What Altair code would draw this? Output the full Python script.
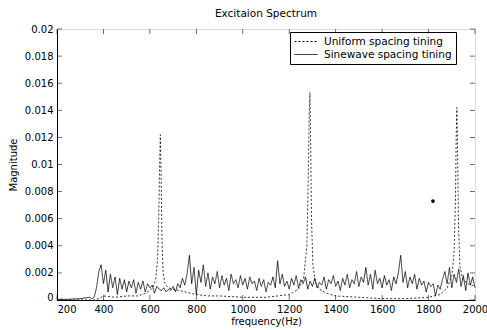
import altair as alt
import pandas as pd

title_text = "Excitaion Spectrum"
x_title = "frequency(Hz)"
y_title = "Magnitude"
series_names = ["Uniform spacing tining", "Sinewave spacing tining"]

x_ticks = [200, 400, 600, 800, 1000, 1200, 1400, 1600, 1800, 2000]
y_ticks = [0, 0.002, 0.004, 0.006, 0.008, 0.01, 0.012, 0.014, 0.016, 0.018, 0.02]

uniform_freq = [200, 360, 380, 400, 450, 500, 550, 580, 600, 615, 625, 633, 638, 642, 645,
                648, 652, 657, 665, 680, 700, 750, 800, 850, 900, 1000, 1100, 1150, 1200,
                1240, 1262, 1276, 1282, 1286, 1289, 1292, 1296, 1302, 1315, 1330, 1360,
                1400, 1500, 1600, 1700, 1800, 1850, 1880, 1900, 1910, 1916, 1919, 1922,
                1925, 1929, 1935, 1948, 1970, 2000]
uniform_mag = [0.0, 0.0, 0.0001, 0.0003, 0.0002, 0.0003, 0.0003, 0.0005, 0.0007, 0.0010,
               0.0015, 0.0030, 0.0060, 0.0100, 0.0122, 0.0095, 0.0045, 0.0020, 0.0012,
               0.0009, 0.0008, 0.0006, 0.0004, 0.0003, 0.0003, 0.0002, 0.0002, 0.0003,
               0.0004, 0.0008, 0.0016, 0.0040, 0.0090, 0.0135, 0.0153, 0.0120, 0.0060,
               0.0025, 0.0012, 0.0008, 0.0005, 0.0003, 0.0002, 0.0001, 0.0001, 0.0002,
               0.0004, 0.0009, 0.0018, 0.0035, 0.0075, 0.0120, 0.0142, 0.0110, 0.0055,
               0.0025, 0.0015, 0.0012, 0.0010]

sine_freq = [200, 250, 300, 340, 350, 360, 370, 380, 390, 400, 410, 420, 430, 440, 450,
             460, 470, 480, 490, 500, 510, 520, 530, 540, 550, 560, 570, 580, 590, 600,
             610, 620, 630, 640, 650, 660, 670, 680, 690, 700, 710, 720, 730, 740, 750,
             760, 770, 780, 790, 800, 810, 820, 830, 840, 850, 860, 870, 880, 890, 900,
             910, 920, 930, 940, 950, 960, 970, 980, 990, 1000, 1010, 1020, 1030, 1040,
             1050, 1060, 1070, 1080, 1090, 1100, 1110, 1120, 1130, 1140, 1150, 1160, 1170,
             1180, 1190, 1200, 1210, 1220, 1230, 1240, 1250, 1260, 1270, 1280, 1290, 1300,
             1310, 1320, 1330, 1340, 1350, 1360, 1370, 1380, 1390, 1400, 1410, 1420, 1430,
             1440, 1450, 1460, 1470, 1480, 1490, 1500, 1510, 1520, 1530, 1540, 1550, 1560,
             1570, 1580, 1590, 1600, 1610, 1620, 1630, 1640, 1650, 1660, 1670, 1680, 1690,
             1700, 1710, 1720, 1730, 1740, 1750, 1760, 1770, 1780, 1790, 1800, 1810, 1820,
             1830, 1840, 1850, 1860, 1870, 1880, 1890, 1900, 1910, 1920, 1930, 1940, 1950,
             1960, 1970, 1980, 1990, 2000]
sine_mag = [0.00005, 0.00005, 0.0001, 0.0002, 0.0001, 0.0002, 0.0009, 0.0021, 0.0026,
            0.0012, 0.0022, 0.0006, 0.0019, 0.0009, 0.0017, 0.0004, 0.0016, 0.0008, 0.0015,
            0.0006, 0.0014, 0.0009, 0.0015, 0.0005, 0.0013, 0.0008, 0.0014, 0.0006, 0.0012,
            0.0009, 0.0011, 0.0005, 0.0010, 0.0008, 0.0007, 0.0009, 0.0006, 0.0008, 0.0007,
            0.0010, 0.0006, 0.0012, 0.0009, 0.0016, 0.0011, 0.0019, 0.0033, 0.0012, 0.0024,
            0.0004, 0.0022, 0.0013, 0.0026, 0.0010, 0.0020, 0.0008, 0.0017, 0.0012, 0.0021,
            0.0009, 0.0018, 0.0011, 0.0016, 0.0007, 0.0019, 0.0012, 0.0015, 0.0009, 0.0018,
            0.0011, 0.0016, 0.0008, 0.0017, 0.0012, 0.0014, 0.0007, 0.0016, 0.0010, 0.0015,
            0.0006, 0.0013, 0.0011, 0.0017, 0.0009, 0.0029, 0.0012, 0.0019, 0.0010, 0.0014,
            0.0008, 0.0016, 0.0011, 0.0018, 0.0009, 0.0015, 0.0012, 0.0017, 0.0008, 0.0014,
            0.0010, 0.0016, 0.0009, 0.0013, 0.0011, 0.0017, 0.0008, 0.0015, 0.0012, 0.0018,
            0.0010, 0.0014, 0.0007, 0.0016, 0.0011, 0.0019, 0.0009, 0.0015, 0.0012, 0.0021,
            0.0010, 0.0017, 0.0013, 0.0024, 0.0011, 0.0019, 0.0008, 0.0022, 0.0012, 0.0016,
            0.0009, 0.0018, 0.0011, 0.0015, 0.0007, 0.0017, 0.0012, 0.0020, 0.0033, 0.0013,
            0.0021, 0.0009, 0.0017, 0.0012, 0.0019, 0.0008, 0.0016, 0.0011, 0.0014, 0.0006,
            0.0013, 0.0010, 0.0012, 0.0003, 0.0011, 0.0008, 0.0015, 0.0021, 0.0012, 0.0024,
            0.0009, 0.0019, 0.0013, 0.0023, 0.0010, 0.0018, 0.0007, 0.0020, 0.0011, 0.0017,
            0.0009]

spot_freq = [1819]
spot_mag = [0.0073]

FONT = "DejaVu Sans"

df = pd.concat([
    pd.DataFrame({"freq": uniform_freq, "mag": uniform_mag, "series": series_names[0]}),
    pd.DataFrame({"freq": sine_freq, "mag": sine_mag, "series": series_names[1]}),
])
spot_df = pd.DataFrame({"freq": spot_freq, "mag": spot_mag})
xt_df = pd.DataFrame({"freq": x_ticks})
yt_df = pd.DataFrame({"mag": y_ticks})

xscale = alt.Scale(domain=[200, 2000], nice=False, zero=False)
yscale = alt.Scale(domain=[0, 0.02], nice=False)
axis_common = dict(
    labelFont=FONT, labelFontSize=10, labelColor="black",
    titleFont=FONT, titleFontSize=10, titleFontWeight="normal", titleColor="black",
    ticks=False, tickSize=0, grid=False, domain=True, domainColor="black", domainWidth=1,
    labelFlush=False,
)
x_axis = alt.Axis(
    values=x_ticks, title=x_title, format="d", labelPadding=4, titlePadding=2,
    labelAlign={"condition": {"test": "datum.value == 200", "value": "left"}, "value": "center"},
    **axis_common)
y_axis = alt.Axis(
    values=y_ticks, title=y_title, format="~g", labelPadding=4, titlePadding=6,
    labelBaseline={"condition": {"test": "datum.value == 0", "value": "alphabetic"},
                   "value": "middle"},
    **axis_common)

legend = alt.Legend(
    title=None, orient="none", legendX=233, legendY=3,
    symbolType="M-1,0H3.6", symbolSize=100, symbolStrokeWidth=1,
    strokeColor="black", fillColor="white", padding=4, rowPadding=2,
    labelFont=FONT, labelFontSize=10.5, labelColor="black", labelOffset=19,
    cornerRadius=0,
)

lines = alt.Chart(df).mark_line(strokeWidth=0.8).encode(
    x=alt.X("freq:Q", scale=xscale, axis=x_axis),
    y=alt.Y("mag:Q", scale=yscale, axis=y_axis),
    color=alt.Color("series:N", scale=alt.Scale(domain=series_names, range=["black", "black"]),
                    legend=legend),
    strokeDash=alt.StrokeDash("series:N",
                              scale=alt.Scale(domain=series_names, range=[[2, 2], [1, 0]]),
                              legend=legend),
)

spot = alt.Chart(spot_df).mark_circle(size=14, color="black", opacity=1).encode(
    x=alt.X("freq:Q", scale=xscale, axis=x_axis),
    y=alt.Y("mag:Q", scale=yscale, axis=y_axis),
)

tick_style = dict(color="black", thickness=0.8, size=5)
bottom_ticks = alt.Chart(xt_df).mark_tick(orient="vertical", yOffset=-2.5, **tick_style).encode(
    x=alt.X("freq:Q", scale=xscale, axis=x_axis), y=alt.YDatum(0, axis=y_axis, title=y_title))
top_ticks = alt.Chart(xt_df).mark_tick(orient="vertical", yOffset=2.5, **tick_style).encode(
    x=alt.X("freq:Q", scale=xscale, axis=x_axis), y=alt.YDatum(0.02, axis=y_axis, title=y_title))
left_ticks = alt.Chart(yt_df).mark_tick(orient="horizontal", xOffset=2.5, **tick_style).encode(
    y=alt.Y("mag:Q", scale=yscale, axis=y_axis), x=alt.XDatum(200, axis=x_axis, title=x_title))
right_ticks = alt.Chart(yt_df).mark_tick(orient="horizontal", xOffset=-2.5, **tick_style).encode(
    y=alt.Y("mag:Q", scale=yscale, axis=y_axis), x=alt.XDatum(2000, axis=x_axis, title=x_title))

chart = alt.layer(lines, spot, bottom_ticks, top_ticks, left_ticks, right_ticks).properties(
    width=418, height=271,
    autosize=alt.AutoSizeParams(type="none"),
    padding={"left": 57, "top": 29, "right": 12, "bottom": 30},
    title=alt.TitleParams(title_text, font=FONT, fontSize=10.5, fontWeight="normal",
                          color="black", offset=5, anchor="middle"),
).configure_view(
    stroke="black", strokeWidth=1
).configure_axis(
    labelFont=FONT, labelFontSize=10, labelColor="black",
    titleFont=FONT, titleFontSize=10, titleFontWeight="normal", titleColor="black",
    ticks=False, tickSize=0, grid=False,
).configure(background="white")

chart.save("out.html", embed_options={"renderer": "svg", "actions": False})
